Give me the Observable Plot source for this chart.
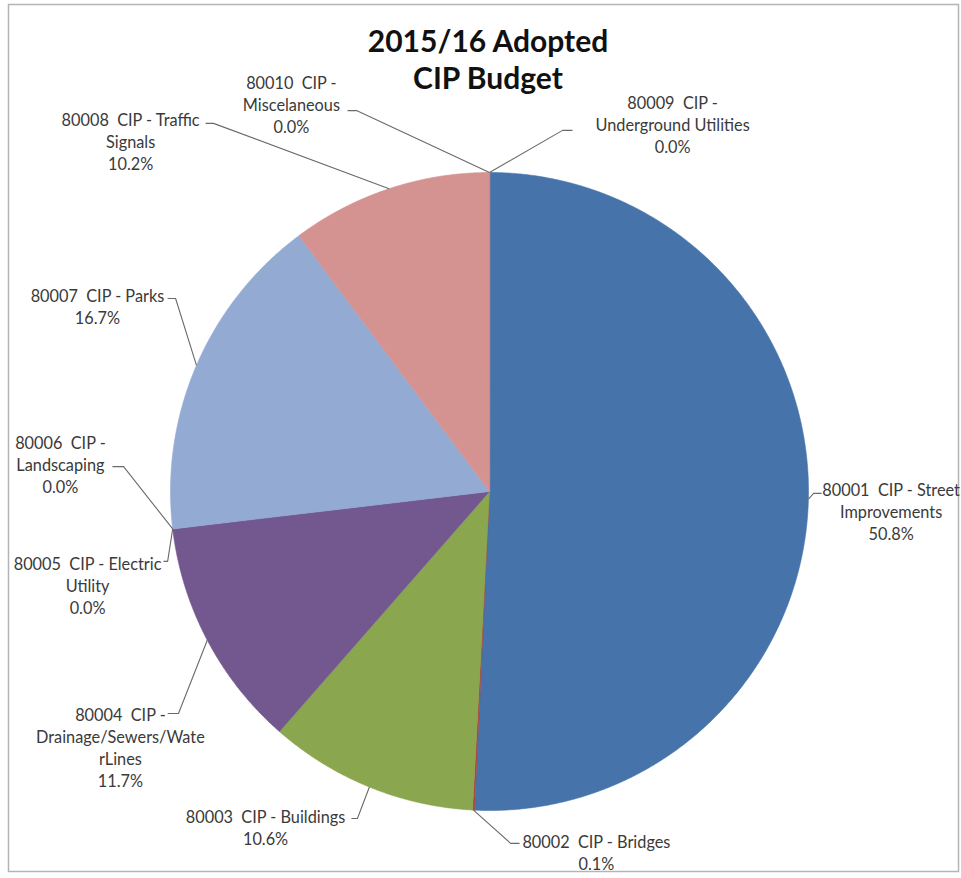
<!DOCTYPE html>
<html>
<head>
<meta charset="utf-8">
<script src="https://cdn.jsdelivr.net/npm/d3@7"></script>
<script src="https://cdn.jsdelivr.net/npm/@observablehq/plot@0.6"></script>
<style>
  html, body { margin: 0; padding: 0; background: #fff; }
  #chart svg { display: block; }
  #chart text { white-space: pre; }
</style>
</head>
<body>
<div id="chart"></div>
<script>
// ---- data ----
const categories = [
  "80001 CIP - Street Improvements",
  "80002 CIP - Bridges",
  "80003 CIP - Buildings",
  "80004 CIP - Drainage/Sewers/WaterLines",
  "80005 CIP - Electric Utility",
  "80006 CIP - Landscaping",
  "80007 CIP - Parks",
  "80008 CIP - Traffic Signals",
  "80009 CIP - Underground Utilities",
  "80010 CIP - Miscelaneous"
];
const values = [50.8, 0.1, 10.6, 11.7, 0.0, 0.0, 16.7, 10.2, 0.0, 0.0];
const labelText = [
  "80001  CIP - Street\nImprovements",
  "80002  CIP - Bridges",
  "80003  CIP - Buildings",
  "80004  CIP -\nDrainage/Sewers/Wate\nrLines",
  "80005  CIP - Electric\nUtility",
  "80006  CIP -\nLandscaping",
  "80007  CIP - Parks",
  "80008  CIP - Traffic\nSignals",
  "80009  CIP -\nUnderground Utilities",
  "80010  CIP -\nMiscelaneous"
];
const colors = ["#4673a9", "#aa4643", "#8aa64e", "#72588f", "#4198af", "#db843d", "#93aad3", "#d49290", "#b9cd96", "#a99bbd"];
const title = "2015/16 Adopted\nCIP Budget";

// ---- layout (in pie-radius units, y up; relative to pie centre) ----
// [text centre u, text centre v, leader elbow u, v, leader end u, v]
const labelLayout = [
  [ 1.259, -0.060,  1.016, -0.006,  1.041, -0.006],
  [ 0.335, -1.130,  0.066, -1.103,  0.094, -1.103],
  [-0.702, -1.052, -0.414, -1.025, -0.433, -1.025],
  [-1.157, -0.801, -0.975, -0.696, -1.009, -0.696],
  [-1.260, -0.292, -1.009, -0.219, -1.022, -0.219],
  [-1.345,  0.086, -1.147,  0.078, -1.182,  0.078],
  [-1.229,  0.582, -0.984,  0.605, -1.009,  0.605],
  [-1.125,  1.099, -0.865,  1.154, -0.890,  1.154],
  [ 0.574,  1.152,  0.229,  1.132,  0.260,  1.132],
  [-0.621,  1.215, -0.417,  1.194, -0.445,  1.194]
];
const W = 961, H = 878, CX = 489, CY = 491, R = 319;

// ---- derived ----
const rows = categories.map((name, i) => ({name, value: values[i], i}));
const arcs = d3.pie().sort(null).value(d => d.value)(rows);

const slicePts = [];
for (const a of arcs) {
  if (a.data.value <= 0) continue;
  slicePts.push({name: a.data.name, x: 0, y: 0});
  const n = Math.max(2, Math.ceil((a.endAngle - a.startAngle) / 0.005));
  for (let k = 0; k <= n; k++) {
    const t = a.startAngle + (a.endAngle - a.startAngle) * k / n;
    slicePts.push({name: a.data.name, x: Math.sin(t), y: Math.cos(t)});
  }
}

const leaderPts = [];
const labels = [];
arcs.forEach((a, i) => {
  const mid = (a.startAngle + a.endAngle) / 2;
  const L = labelLayout[i];
  leaderPts.push({name: a.data.name, x: Math.sin(mid), y: Math.cos(mid)});
  leaderPts.push({name: a.data.name, x: L[2], y: L[3]});
  leaderPts.push({name: a.data.name, x: L[4], y: L[5]});
  labels.push({name: a.data.name, x: L[0], y: L[1],
    text: labelText[i] + "\n" + a.data.value.toFixed(1) + "%"});
});

const chart = Plot.plot({
  width: W,
  height: H,
  margin: 0,
  style: {background: "#fff", fontFamily: "Lato, 'Open Sans', sans-serif"},
  x: {domain: [-CX / R, (W - CX) / R], axis: null},
  y: {domain: [-(H - CY) / R, CY / R], axis: null},
  color: {domain: categories, range: colors},
  marks: [
    Plot.frame({stroke: "#b4b4b4", strokeWidth: 1.5, insetLeft: 8, insetTop: 4, insetRight: 3, insetBottom: 7}),
    Plot.line(slicePts, {x: "x", y: "y", z: "name", fill: "name", stroke: "name", strokeWidth: 0.6, curve: "linear-closed", strokeLinejoin: "miter"}),
    Plot.line(leaderPts, {x: "x", y: "y", z: "name", stroke: "#6a6a6a", strokeWidth: 1.1, strokeLinecap: "butt"}),
    Plot.text(labels, {x: "x", y: "y", text: "text", fill: "#3a3a3a", fontSize: 16.3, lineHeight: 1.36}),
    Plot.text([title], {frameAnchor: "top", lineAnchor: "top", dx: 7, dy: 25, fontSize: 30, fontWeight: "bold", fill: "#111", lineHeight: 1.24})
  ]
});
document.getElementById("chart").append(chart);
</script>
</body>
</html>
